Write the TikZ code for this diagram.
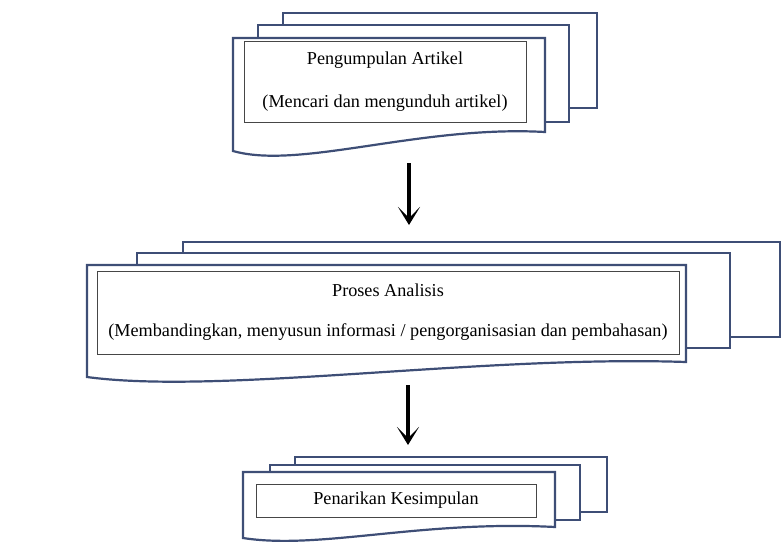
\documentclass[tikz,border=0pt]{standalone}
\usepackage{fontspec}
\setmainfont{Liberation Serif}
\usetikzlibrary{arrows.meta, positioning}
\definecolor{sheetblue}{RGB}{62,78,118}
\definecolor{boxgray}{RGB}{70,70,70}

\begin{document}
\begin{tikzpicture}[x=1pt, y=-1pt,
  every node/.style={font=\fontsize{18.2}{22}\selectfont},
  sheet/.style={draw=sheetblue, line width=2.2pt, fill=white},
  inbox/.style={rectangle, draw=boxgray, line width=0.9pt, align=center, inner sep=0pt},
  flow/.style={-{Stealth[length=18pt,width=22pt,inset=11pt]}, line width=3.6pt},
]
  \useasboundingbox (0,0) rectangle (782,555);

  \draw[sheet] (283,13) rectangle (597,108);
  \draw[sheet] (258,25) rectangle (569,122);
  \draw[sheet] (233,38) -- (545,38) -- (545,132) .. controls (420,125) and (300,170) .. (233,151) -- cycle;
  \node[inbox, minimum width=282pt, minimum height=81pt] (kumpul) at (385,81.5)
    {Pengumpulan Artikel\\[21pt](Mencari dan mengunduh artikel)};

  \draw[sheet] (183,242) rectangle (780,337);
  \draw[sheet] (137,253) rectangle (730,348);
  \draw[sheet] (87,265) -- (686,265) -- (686,362) .. controls (480,355) and (220,395) .. (87,377) -- cycle;
  \node[inbox, minimum width=582pt, minimum height=83pt] (analisis) at (388,312.5)
    {Proses Analisis\\[18pt](Membandingkan, menyusun informasi / pengorganisasian dan pembahasan)};

  \draw[sheet] (295,457) rectangle (607,512);
  \draw[sheet] (270,465) rectangle (580,520);
  \draw[sheet] (243,472) -- (555,472) -- (555,527) .. controls (420,520) and (320,550) .. (243,538) -- cycle;
  \node[inbox, minimum width=280pt, minimum height=33pt] (simpul) at (396,500.5)
    {Penarikan Kesimpulan};

  \coordinate (a1) at (409,163);
  \coordinate (b1) at (409,225);
  \coordinate (a2) at (408,385);
  \coordinate (b2) at (408,445);
  \draw[flow] (a1) -- (b1);
  \draw[flow] (a2) -- (b2);
\end{tikzpicture}
\end{document}
